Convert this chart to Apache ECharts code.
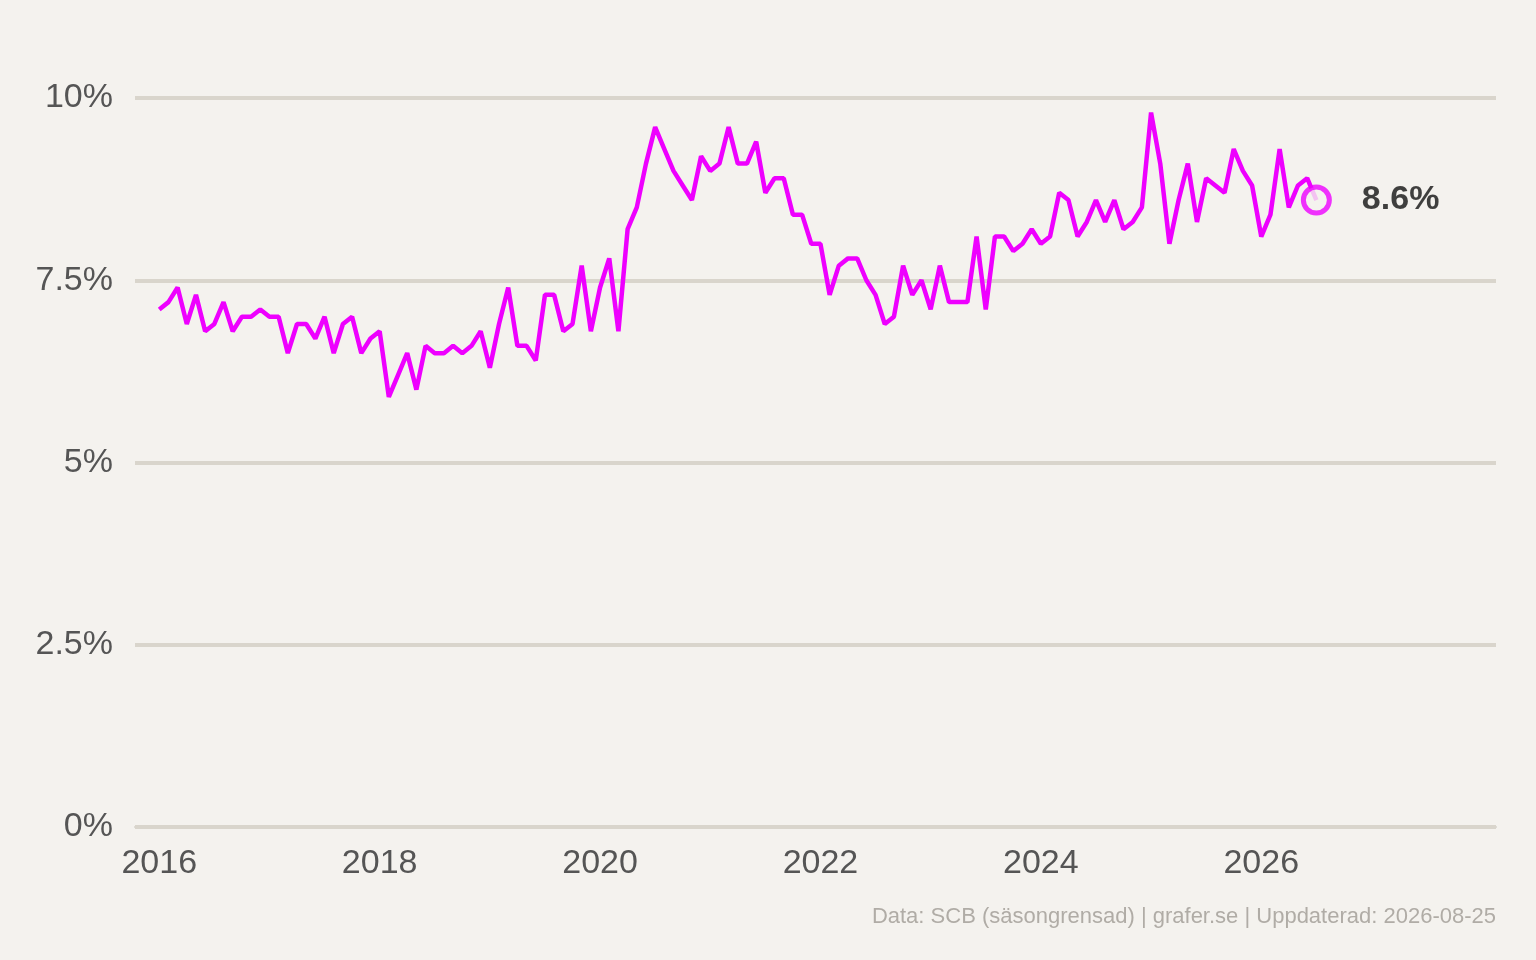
<!DOCTYPE html>
<html>
<head>
<meta charset="utf-8">
<script src="https://cdn.jsdelivr.net/npm/echarts@6/dist/echarts.min.js"></script>
<style>
  html, body { margin: 0; padding: 0; background: #f4f2ee; }
  #chart { width: 1536px; height: 960px; }
</style>
</head>
<body>
<div id="chart"></div>
<script>
// Arbetslöshet, månadsvärden från jan 2016
var startYear = 2016;
var rates = [
  7.1, 7.2, 7.4, 6.9, 7.3, 6.8, 6.9, 7.2, 6.8, 7.0, 7.0, 7.1,
  7.0, 7.0, 6.5, 6.9, 6.9, 6.7, 7.0, 6.5, 6.9, 7.0, 6.5, 6.7,
  6.8, 5.9, 6.2, 6.5, 6.0, 6.6, 6.5, 6.5, 6.6, 6.5, 6.6, 6.8,
  6.3, 6.9, 7.4, 6.6, 6.6, 6.4, 7.3, 7.3, 6.8, 6.9, 7.7, 6.8,
  7.4, 7.8, 6.8, 8.2, 8.5, 9.1, 9.6, 9.3, 9.0, 8.8, 8.6, 9.2,
  9.0, 9.1, 9.6, 9.1, 9.1, 9.4, 8.7, 8.9, 8.9, 8.4, 8.4, 8.0,
  8.0, 7.3, 7.7, 7.8, 7.8, 7.5, 7.3, 6.9, 7.0, 7.7, 7.3, 7.5,
  7.1, 7.7, 7.2, 7.2, 7.2, 8.1, 7.1, 8.1, 8.1, 7.9, 8.0, 8.2,
  8.0, 8.1, 8.7, 8.6, 8.1, 8.3, 8.6, 8.3, 8.6, 8.2, 8.3, 8.5,
  9.8, 9.1, 8.0, 8.6, 9.1, 8.3, 8.9, 8.8, 8.7, 9.3, 9.0, 8.8,
  8.1, 8.4, 9.3, 8.5, 8.8, 8.9, 8.6
];
var yearTicks = [2016, 2018, 2020, 2022, 2024, 2026];
var yTicks = [0, 2.5, 5, 7.5, 10];
var footer = 'Data: SCB (säsongrensad) | grafer.se | Uppdaterad: 2026-08-25';

var points = rates.map(function (v, i) { return [startYear + i / 12, v]; });
var last = points[points.length - 1];

var chart = echarts.init(document.getElementById('chart'));
chart.setOption({
  backgroundColor: '#f4f2ee',
  animation: false,
  textStyle: { fontFamily: 'Liberation Sans, Arial, sans-serif' },
  grid: { left: 135, right: 40, top: 98, bottom: 133 },
  graphic: [{
    type: 'text', right: 40, top: 906,
    style: { text: footer, fill: '#b0aca6', fontSize: 22, fontFamily: 'Liberation Sans, Arial, sans-serif' }
  }],
  xAxis: {
    type: 'value',
    min: 2015.78, max: 2028.13,
    axisLine: { show: true, lineStyle: { color: '#d9d5cc', width: 2 } },
    axisTick: { show: false },
    splitLine: { show: false },
    axisLabel: {
      customValues: yearTicks,
      color: '#555', fontSize: 34, margin: 20,
      formatter: function (v) { return String(v); }
    }
  },
  yAxis: {
    type: 'value',
    min: 0, max: 10, interval: 2.5,
    axisLine: { show: false },
    axisTick: { show: false },
    splitLine: { lineStyle: { color: '#d9d5cc', width: 4 } },
    axisLabel: {
      color: '#555', fontSize: 34, margin: 22,
      formatter: function (v) { return yTicks.indexOf(v) >= 0 ? String(v) + '%' : ''; }
    }
  },
  series: [{
    type: 'line',
    data: points,
    showSymbol: false,
    lineStyle: { color: '#ee00ff', width: 4.5 },
    z: 3
  }, {
    type: 'scatter',
    data: [last],
    symbol: 'circle',
    symbolSize: 26,
    itemStyle: { color: '#f4f2ee', borderColor: '#ee00ff', borderWidth: 5 },
    label: {
      show: true, position: 'right', distance: 30,
      formatter: function (p) { return p.value[1].toFixed(1) + '%'; },
      color: '#111', fontSize: 34, fontWeight: 'bold'
    },
    z: 4
  }]
});
</script>
</body>
</html>
